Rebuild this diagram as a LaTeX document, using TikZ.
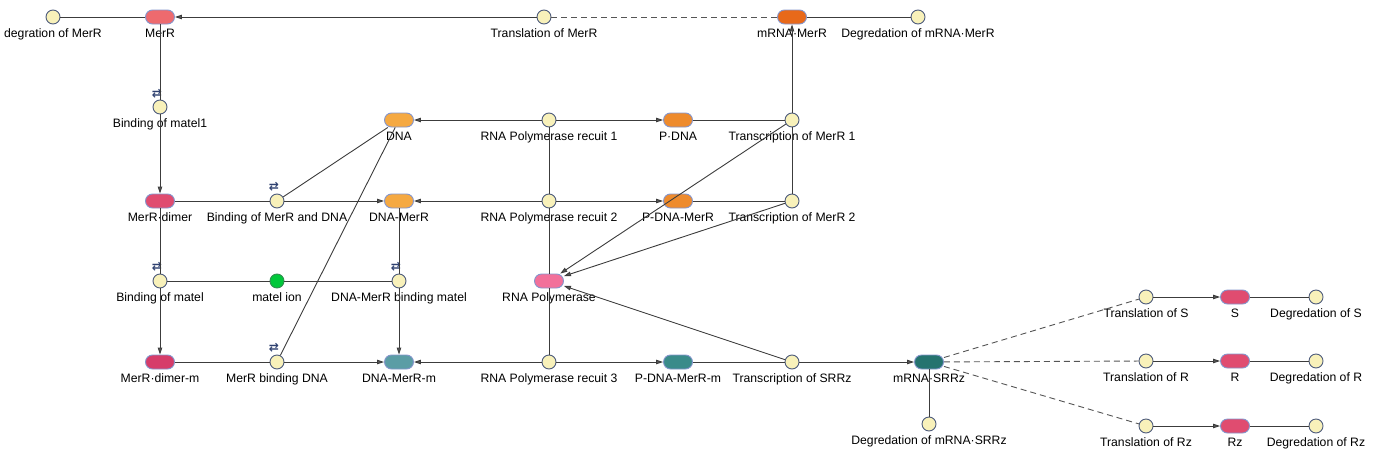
\documentclass[tikz,border=0pt]{standalone}
\usepackage{fontspec}
\setmainfont{Liberation Sans}
\newfontfamily\symfont{DejaVu Sans}
\usetikzlibrary{arrows.meta}
\definecolor{circf}{HTML}{F8F1BA}
\definecolor{circb}{HTML}{4D5B7C}
\definecolor{spb}{HTML}{8596CC}
\definecolor{lnc}{HTML}{3C3C3C}
\definecolor{arc}{HTML}{555555}
\definecolor{icon}{HTML}{2F4170}
\definecolor{cMerR}{HTML}{EE6A6E}
\definecolor{cmRNAM}{HTML}{E8691A}
\definecolor{cDNA}{HTML}{F5A942}
\definecolor{cPDNA}{HTML}{EE8B2D}
\definecolor{cDimer}{HTML}{E04C70}
\definecolor{cRNAP}{HTML}{F2709A}
\definecolor{cDimerM}{HTML}{D63C6A}
\definecolor{cDNAMm}{HTML}{5B9DA5}
\definecolor{cPDNAMm}{HTML}{3A8B8A}
\definecolor{cmRNAS}{HTML}{25736F}
\definecolor{cIon}{HTML}{00C83A}
\definecolor{cIonB}{HTML}{2F8F4F}
\tikzset{
  lbl/.style={font=\fontsize{12.2}{14}\selectfont, inner sep=0pt, anchor=base, text=black},
  rx/.style={circle, draw=circb, fill=circf, minimum size=14pt, inner sep=0pt, line width=0.9pt},
  ionst/.style={circle, draw=cIonB, fill=cIon, minimum size=14pt, inner sep=0pt, line width=0.9pt},
  sp/.style={rectangle, rounded corners=7pt, draw=spb, fill=#1, line width=0.9pt, minimum width=29pt, minimum height=14pt, inner sep=0pt},
  ln/.style={draw=lnc, line width=0.9pt},
  arr/.style={-{Triangle[length=7pt,width=4.5pt,fill=arc]}},
  modl/.style={draw=arc, line width=0.9pt, dash pattern=on 6pt off 4pt},
  rev/.style={font=\symfont\bfseries\fontsize{12}{12}\selectfont, text=icon, inner sep=0pt}
}
\newcommand\lab[2]{\node[lbl] (#1-l) at ([yshift=-20pt]#1.center) {#2};}
\begin{document}
\begin{tikzpicture}[x=1pt,y=-1pt]
\useasboundingbox (0,0) rectangle (1387,458);
% nodes
\node[rx] (degM) at (53,17) {};
\node[sp=cMerR] (merR) at (160,17) {};
\node[rx] (trM) at (544,17) {};
\node[sp=cmRNAM] (mrnaM) at (792,17) {};
\node[rx] (degmM) at (918,17) {};
\node[rx] (bm1) at (160,107) {};
\node[sp=cDNA] (dna) at (399,120) {};
\node[rx] (rp1) at (549,120) {};
\node[sp=cPDNA] (pdna) at (678,120) {};
\node[rx] (tm1) at (792,120) {};
\node[sp=cDimer] (dimer) at (160,201) {};
\node[rx] (bmd) at (277,201) {};
\node[sp=cDNA] (dnaM) at (399,201) {};
\node[rx] (rp2) at (549,201) {};
\node[sp=cPDNA] (pdnaM) at (678,201) {};
\node[rx] (tm2) at (792,201) {};
\node[rx] (bm) at (160,281) {};
\node[ionst] (ion) at (277,281) {};
\node[rx] (dmbm) at (399,281) {};
\node[sp=cRNAP] (rnap) at (549,281) {};
\node[sp=cDimerM] (dimerm) at (160,362) {};
\node[rx] (mbd) at (277,362) {};
\node[sp=cDNAMm] (dnaMm) at (399,362) {};
\node[rx] (rp3) at (549,362) {};
\node[sp=cPDNAMm] (pdnaMm) at (678,362) {};
\node[rx] (tsr) at (792,362) {};
\node[sp=cmRNAS] (mrnaS) at (929,362) {};
\node[rx] (degmS) at (929,424) {};
\node[rx] (trS) at (1146,297) {};
\node[sp=cDimer] (S) at (1235,297) {};
\node[rx] (degS) at (1316,297) {};
\node[rx] (trR) at (1146,361) {};
\node[sp=cDimer] (R) at (1235,361) {};
\node[rx] (degR) at (1316,361) {};
\node[rx] (trRz) at (1146,426) {};
\node[sp=cDimer] (Rz) at (1235,426) {};
\node[rx] (degRz) at (1316,426) {};
% labels
\lab{degM}{degration of MerR}
\lab{merR}{MerR}
\lab{trM}{Translation of MerR}
\lab{mrnaM}{mRNA·MerR}
\lab{degmM}{Degredation of mRNA·MerR}
\lab{bm1}{Binding of matel1}
\lab{dna}{DNA}
\lab{rp1}{RNA Polymerase recuit 1}
\lab{pdna}{P·DNA}
\lab{tm1}{Transcription of MerR 1}
\lab{dimer}{MerR·dimer}
\lab{bmd}{Binding of MerR and DNA}
\lab{dnaM}{DNA-MerR}
\lab{rp2}{RNA Polymerase recuit 2}
\lab{pdnaM}{P-DNA-MerR}
\lab{tm2}{Transcription of MerR 2}
\lab{bm}{Binding of matel}
\lab{ion}{matel ion}
\lab{dmbm}{DNA-MerR binding matel}
\lab{rnap}{RNA Polymerase}
\lab{dimerm}{MerR·dimer-m}
\lab{mbd}{MerR binding DNA}
\lab{dnaMm}{DNA-MerR-m}
\lab{rp3}{RNA Polymerase recuit 3}
\lab{pdnaMm}{P-DNA-MerR-m}
\lab{tsr}{Transcription of SRRz}
\lab{mrnaS}{mRNA·SRRz}
\lab{degmS}{Degredation of mRNA·SRRz}
\lab{trS}{Translation of S}
\lab{S}{S}
\lab{degS}{Degredation of S}
\lab{trR}{Translation of R}
\lab{R}{R}
\lab{degR}{Degredation of R}
\lab{trRz}{Translation of Rz}
\lab{Rz}{Rz}
\lab{degRz}{Degredation of Rz}
% reversible icons
\node[rev] (ic1) at (157,94) {⇄};
\node[rev] (ic2) at (274,187) {⇄};
\node[rev] (ic3) at (157,267) {⇄};
\node[rev] (ic4) at (396,267) {⇄};
\node[rev] (ic5) at (274,348) {⇄};
% connectors
\draw[ln] (degM) -- (merR);
\draw[ln,arr] (trM) -- (merR);
\draw[modl] (trM) -- (mrnaM);
\draw[ln] (mrnaM) -- (degmM);
\draw[ln] (merR) -- (bm1);
\draw[ln,arr] (bm1) -- (dimer);
\draw[ln,arr] (tm1) -- (mrnaM);
\draw[ln] (tm2) -- (tm1);
\draw[ln,arr] (rp1) -- (dna);
\draw[ln,arr] (rp1) -- (pdna);
\draw[ln] (pdna) -- (tm1);
\draw[ln,arr] (tm1) -- (rnap);
\draw[ln] (dimer) -- (bmd);
\draw[ln,arr] (bmd) -- (dnaM);
\draw[ln] (dna) -- (bmd);
\draw[ln] (dna) -- (mbd);
\draw[ln,arr] (rp2) -- (dnaM);
\draw[ln,arr] (rp2) -- (pdnaM);
\draw[ln] (pdnaM) -- (tm2);
\draw[ln,arr] (tm2) -- (rnap);
\draw[ln] (rp1) -- (rp2);
\draw[ln] (rp2) -- (rnap);
\draw[ln] (rnap) -- (rp3);
\draw[ln] (dimer) -- (bm);
\draw[ln,arr] (bm) -- (dimerm);
\draw[ln] (bm) -- (ion);
\draw[ln] (ion) -- (dmbm);
\draw[ln] (dnaM) -- (dmbm);
\draw[ln,arr] (dmbm) -- (dnaMm);
\draw[ln] (dimerm) -- (mbd);
\draw[ln,arr] (mbd) -- (dnaMm);
\draw[ln,arr] (rp3) -- (dnaMm);
\draw[ln,arr] (rp3) -- (pdnaMm);
\draw[ln] (pdnaMm) -- (tsr);
\draw[ln,arr] (tsr) -- (mrnaS);
\draw[ln,arr] (tsr) -- (rnap);
\draw[ln] (mrnaS) -- (degmS);
\draw[modl] (mrnaS) -- (trS);
\draw[modl] (mrnaS) -- (trR);
\draw[modl] (mrnaS) -- (trRz);
\draw[ln,arr] (trS) -- (S);
\draw[ln] (S) -- (degS);
\draw[ln,arr] (trR) -- (R);
\draw[ln] (R) -- (degR);
\draw[ln,arr] (trRz) -- (Rz);
\draw[ln] (Rz) -- (degRz);
\end{tikzpicture}
\end{document}
